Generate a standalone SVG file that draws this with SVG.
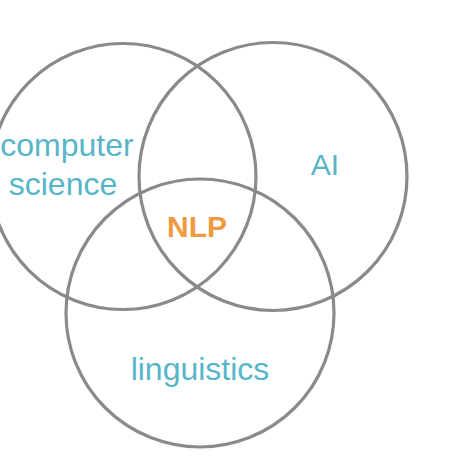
<svg xmlns="http://www.w3.org/2000/svg" width="474" height="474" viewBox="0 0 474 474">
<style>
.c{fill:none;stroke:#8a8a8a;stroke-width:3.2}
.t{font-family:"Liberation Sans",Arial,sans-serif;fill:#58b5c8;font-size:32px;text-anchor:middle}
.n{font-family:"Liberation Sans",Arial,sans-serif;fill:#ef9a3e;font-size:30px;font-weight:bold;text-anchor:middle}
</style>
<rect width="474" height="474" fill="#ffffff"/>
<g id="cs"><circle class="c" cx="123" cy="176.5" r="133"/><text class="t" x="67" y="156">computer</text><text class="t" x="63" y="195">science</text></g>
<g id="ai"><circle class="c" cx="273" cy="176.5" r="134"/><text class="t" x="325" y="175" style="font-size:30px">AI</text></g>
<g id="ling"><circle class="c" cx="200" cy="313" r="134"/><text class="t" x="200" y="380">linguistics</text></g>
<g id="nlp"><text class="n" x="197" y="237">NLP</text></g>
<g id="connectors"/>
</svg>
